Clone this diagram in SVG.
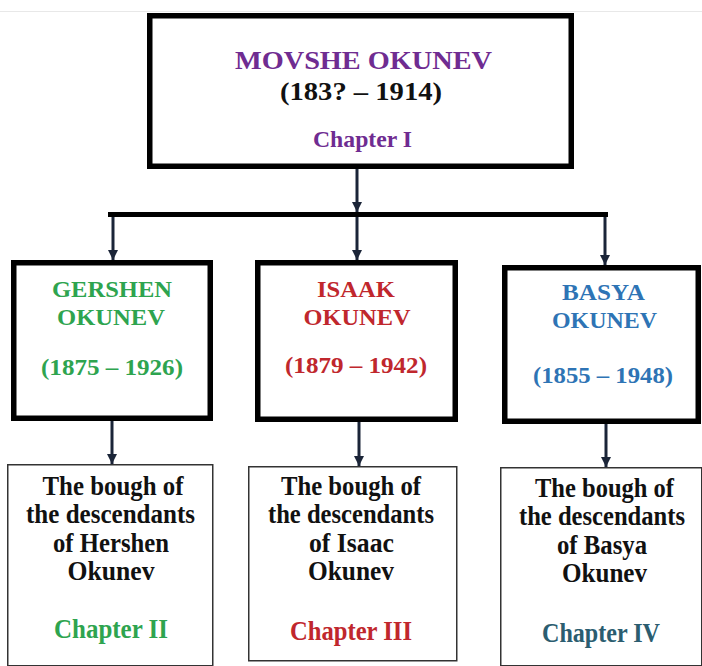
<svg xmlns="http://www.w3.org/2000/svg" width="702" height="666" viewBox="0 0 702 666">
<style>
text{font-family:"Liberation Serif","Times New Roman",serif;font-weight:bold;text-anchor:middle}
.t1{font-size:25.5px}
.t2{font-size:23px}
.t3{font-size:27px;fill:#111}
.pur{fill:#6F2C91}
.blk{fill:#111}
.grn{fill:#2EA44F}
.red{fill:#C0272D}
.blu{fill:#2E74B5}
.teal{fill:#2B5D70}
.thick{fill:#fff;stroke:#000;stroke-width:5.5}
.thin{fill:#fff;stroke:#333;stroke-width:1.5}
.arr{fill:none;stroke:#1B2538;stroke-width:3;marker-end:url(#ah)}
</style>
<defs>
<marker id="ah" viewBox="0 0 10 10" refX="10" refY="5" markerWidth="3.4" markerHeight="3.4" orient="auto" markerUnits="strokeWidth">
<path d="M0,0 L10,5 L0,10 z" fill="#1B2538"/>
</marker>
</defs>
<rect width="702" height="666" fill="#fff"/>
<line x1="0" y1="11.5" x2="702" y2="11.5" stroke="#e8e8e8" stroke-width="1"/>
<g id="connectors">
<line x1="108" y1="214.5" x2="608" y2="214.5" stroke="#000" stroke-width="5"/>
<line class="arr" x1="357" y1="169" x2="357" y2="212"/>
<line class="arr" x1="113" y1="217" x2="113" y2="260"/>
<line class="arr" x1="357" y1="217" x2="357" y2="260"/>
<line class="arr" x1="605" y1="217" x2="605" y2="265"/>
<line class="arr" x1="112" y1="421" x2="112" y2="464"/>
<line class="arr" x1="359" y1="422" x2="359" y2="466"/>
<line class="arr" x1="606" y1="424" x2="606" y2="467"/>
</g>
<g id="movshe">
<rect class="thick" x="149.75" y="15.75" width="421.5" height="150.5"/>
<text class="t1 pur" x="363.5" y="69" textLength="257" lengthAdjust="spacingAndGlyphs">MOVSHE OKUNEV</text>
<text class="t1 blk" x="361" y="100" textLength="162" lengthAdjust="spacingAndGlyphs">(183? – 1914)</text>
<text class="t2 pur" x="362.5" y="147" textLength="99" lengthAdjust="spacingAndGlyphs">Chapter I</text>
</g>
<g id="gershen">
<rect class="thick" x="13.75" y="262.75" width="196.5" height="155.5"/>
<text class="t2 grn" x="112" y="297" textLength="120" lengthAdjust="spacingAndGlyphs">GERSHEN</text>
<text class="t2 grn" x="111" y="325" textLength="108" lengthAdjust="spacingAndGlyphs">OKUNEV</text>
<text class="t2 grn" x="112" y="375" textLength="142" lengthAdjust="spacingAndGlyphs">(1875 – 1926)</text>
</g>
<g id="isaak">
<rect class="thick" x="257.75" y="262.75" width="197.5" height="156.5"/>
<text class="t2 red" x="356" y="297" textLength="78" lengthAdjust="spacingAndGlyphs">ISAAK</text>
<text class="t2 red" x="357" y="325" textLength="107" lengthAdjust="spacingAndGlyphs">OKUNEV</text>
<text class="t2 red" x="356" y="373" textLength="142" lengthAdjust="spacingAndGlyphs">(1879 – 1942)</text>
</g>
<g id="basya">
<rect class="thick" x="504.75" y="267.75" width="193.5" height="153.5"/>
<text class="t2 blu" x="603.5" y="300" textLength="83" lengthAdjust="spacingAndGlyphs">BASYA</text>
<text class="t2 blu" x="604.5" y="328" textLength="105" lengthAdjust="spacingAndGlyphs">OKUNEV</text>
<text class="t2 blu" x="603" y="383" textLength="140" lengthAdjust="spacingAndGlyphs">(1855 – 1948)</text>
</g>
<g id="bough-gershen">
<rect class="thin" x="7.75" y="464.75" width="205" height="201"/>
<text class="t3" x="113" y="495" textLength="141" lengthAdjust="spacingAndGlyphs">The bough of</text>
<text class="t3" x="110.5" y="523" textLength="169" lengthAdjust="spacingAndGlyphs">the descendants</text>
<text class="t3" x="111" y="552" textLength="116" lengthAdjust="spacingAndGlyphs">of Hershen</text>
<text class="t3" x="111" y="580" textLength="87" lengthAdjust="spacingAndGlyphs">Okunev</text>
<text class="t3 grn" x="111" y="638" textLength="114" lengthAdjust="spacingAndGlyphs">Chapter II</text>
</g>
<g id="bough-isaac">
<rect class="thin" x="248.75" y="466.75" width="208" height="194"/>
<text class="t3" x="351" y="495" textLength="140" lengthAdjust="spacingAndGlyphs">The bough of</text>
<text class="t3" x="351" y="523" textLength="166" lengthAdjust="spacingAndGlyphs">the descendants</text>
<text class="t3" x="351.5" y="552" textLength="85" lengthAdjust="spacingAndGlyphs">of Isaac</text>
<text class="t3" x="351" y="580" textLength="86" lengthAdjust="spacingAndGlyphs">Okunev</text>
<text class="t3 red" x="351" y="640" textLength="122" lengthAdjust="spacingAndGlyphs">Chapter III</text>
</g>
<g id="bough-basya">
<rect class="thin" x="500.75" y="467.75" width="201" height="198"/>
<text class="t3" x="604.5" y="497" textLength="139" lengthAdjust="spacingAndGlyphs">The bough of</text>
<text class="t3" x="602" y="525" textLength="166" lengthAdjust="spacingAndGlyphs">the descendants</text>
<text class="t3" x="602" y="554" textLength="90" lengthAdjust="spacingAndGlyphs">of Basya</text>
<text class="t3" x="604.5" y="582" textLength="85" lengthAdjust="spacingAndGlyphs">Okunev</text>
<text class="t3 teal" x="601" y="642" textLength="118" lengthAdjust="spacingAndGlyphs">Chapter IV</text>
</g>
</svg>
